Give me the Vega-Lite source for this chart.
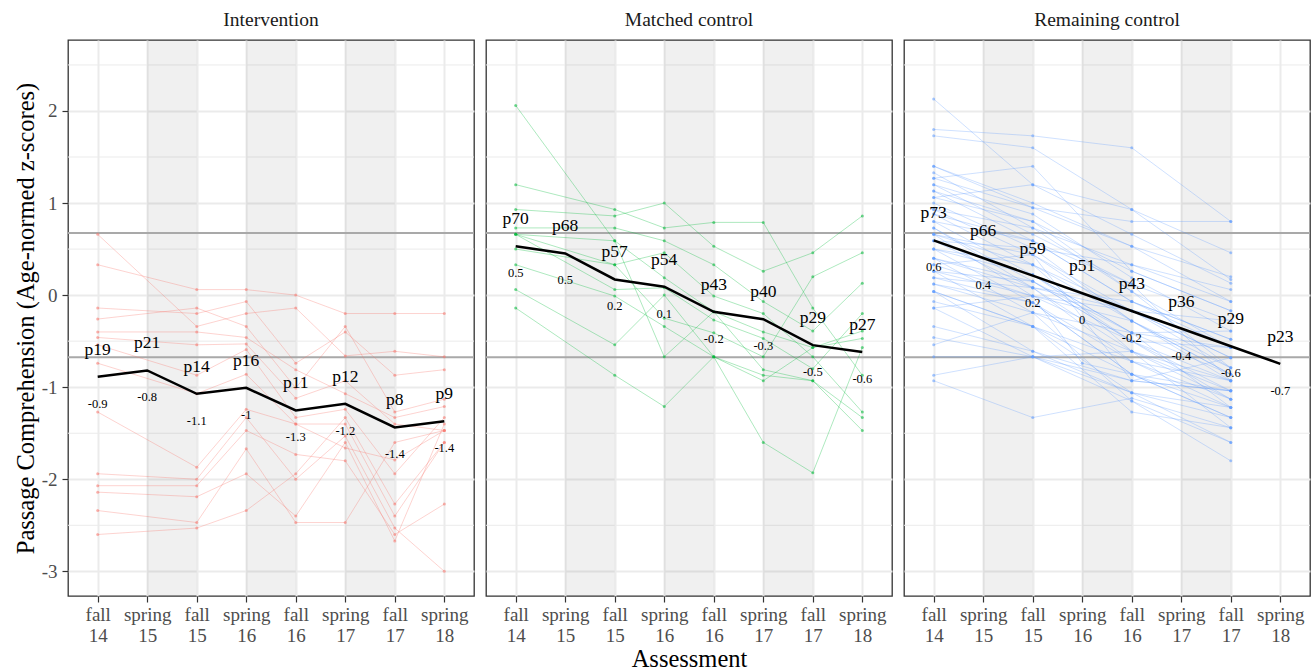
{
"$schema": "https://vega.github.io/schema/vega-lite/v6.json",
"padding": {"left": 12, "top": 8, "right": 0, "bottom": 0},
"background": "white",
"datasets": {
"minor": [{"z":-2.5},{"z":-1.5},{"z":-0.5},{"z":0.5},{"z":1.5},{"z":2.5}],
"refs": [{"z":-0.674},{"z":0.674}],
"bands": [{"t":2,"t2":3},{"t":4,"t2":5},{"t":6,"t2":7}],
"means": [
{"g":"I","t":1,"z":-0.887,"p":"p19","v":"-0.9"},{"g":"I","t":2,"z":-0.818,"p":"p21","v":"-0.8"},{"g":"I","t":3,"z":-1.072,"p":"p14","v":"-1.1"},{"g":"I","t":4,"z":-1.007,"p":"p16","v":"-1"},{"g":"I","t":5,"z":-1.253,"p":"p11","v":"-1.3"},{"g":"I","t":6,"z":-1.18,"p":"p12","v":"-1.2"},{"g":"I","t":7,"z":-1.437,"p":"p8","v":"-1.4"},{"g":"I","t":8,"z":-1.369,"p":"p9","v":"-1.4"},
{"g":"M","t":1,"z":0.532,"p":"p70","v":"0.5"},{"g":"M","t":2,"z":0.453,"p":"p68","v":"0.5"},{"g":"M","t":3,"z":0.17,"p":"p57","v":"0.2"},{"g":"M","t":4,"z":0.091,"p":"p54","v":"0.1"},{"g":"M","t":5,"z":-0.181,"p":"p43","v":"-0.2"},{"g":"M","t":6,"z":-0.261,"p":"p40","v":"-0.3"},{"g":"M","t":7,"z":-0.543,"p":"p29","v":"-0.5"},{"g":"M","t":8,"z":-0.619,"p":"p27","v":"-0.6"},
{"g":"R","t":1,"z":0.594,"p":"p73","v":"0.6"},{"g":"R","t":2,"z":0.403,"p":"p66","v":"0.4"},{"g":"R","t":3,"z":0.211,"p":"p59","v":"0.2"},{"g":"R","t":4,"z":0.02,"p":"p51","v":"0"},{"g":"R","t":5,"z":-0.172,"p":"p43","v":"-0.2"},{"g":"R","t":6,"z":-0.363,"p":"p36","v":"-0.4"},{"g":"R","t":7,"z":-0.555,"p":"p29","v":"-0.6"},{"g":"R","t":8,"z":-0.746,"p":"p23","v":"-0.7"}
],
"students": [
{"g":"I","s":"I1","t":1,"z":0.66},{"g":"I","s":"I1","t":3,"z":-0.34},{"g":"I","s":"I1","t":4,"z":-0.2},{"g":"I","s":"I1","t":5,"z":-0.14},{"g":"I","s":"I1","t":6,"z":-0.66},{"g":"I","s":"I1","t":7,"z":-0.61},{"g":"I","s":"I1","t":8,"z":-0.67},
{"g":"I","s":"I2","t":1,"z":0.33},{"g":"I","s":"I2","t":3,"z":0.06},{"g":"I","s":"I2","t":4,"z":0.06},{"g":"I","s":"I2","t":5,"z":0.0},{"g":"I","s":"I2","t":6,"z":-0.2},{"g":"I","s":"I2","t":7,"z":-0.2},{"g":"I","s":"I2","t":8,"z":-0.2},
{"g":"I","s":"I3","t":1,"z":-0.14},{"g":"I","s":"I3","t":3,"z":-0.2},{"g":"I","s":"I3","t":4,"z":-0.07},{"g":"I","s":"I3","t":5,"z":-0.74},{"g":"I","s":"I3","t":6,"z":-0.4},{"g":"I","s":"I3","t":7,"z":-0.87},{"g":"I","s":"I3","t":8,"z":-0.81},
{"g":"I","s":"I4","t":1,"z":-0.26},{"g":"I","s":"I4","t":3,"z":-0.14},{"g":"I","s":"I4","t":4,"z":-0.34},{"g":"I","s":"I4","t":5,"z":-1.01},{"g":"I","s":"I4","t":6,"z":-0.34},{"g":"I","s":"I4","t":7,"z":-1.27},{"g":"I","s":"I4","t":8,"z":-1.13},
{"g":"I","s":"I5","t":1,"z":-0.4},{"g":"I","s":"I5","t":3,"z":-0.4},{"g":"I","s":"I5","t":4,"z":-0.46},{"g":"I","s":"I5","t":5,"z":-0.81},{"g":"I","s":"I5","t":6,"z":-1.07},{"g":"I","s":"I5","t":7,"z":-1.33},{"g":"I","s":"I5","t":8,"z":-1.21},
{"g":"I","s":"I6","t":1,"z":-0.46},{"g":"I","s":"I6","t":3,"z":-0.54},{"g":"I","s":"I6","t":4,"z":-0.53},{"g":"I","s":"I6","t":5,"z":-1.12},{"g":"I","s":"I6","t":6,"z":-0.93},{"g":"I","s":"I6","t":7,"z":-1.4},{"g":"I","s":"I6","t":8,"z":-1.47},
{"g":"I","s":"I7","t":1,"z":-0.54},{"g":"I","s":"I7","t":3,"z":-0.87},{"g":"I","s":"I7","t":4,"z":-0.59},{"g":"I","s":"I7","t":5,"z":-1.33},{"g":"I","s":"I7","t":6,"z":-1.24},{"g":"I","s":"I7","t":7,"z":-1.94},{"g":"I","s":"I7","t":8,"z":-1.33},
{"g":"I","s":"I8","t":1,"z":-0.74},{"g":"I","s":"I8","t":3,"z":-1.07},{"g":"I","s":"I8","t":4,"z":-0.86},{"g":"I","s":"I8","t":5,"z":-1.4},{"g":"I","s":"I8","t":6,"z":-1.4},{"g":"I","s":"I8","t":7,"z":-2.4},{"g":"I","s":"I8","t":8,"z":-1.6},
{"g":"I","s":"I9","t":1,"z":-1.27},{"g":"I","s":"I9","t":3,"z":-1.87},{"g":"I","s":"I9","t":4,"z":-1.24},{"g":"I","s":"I9","t":5,"z":-1.4},{"g":"I","s":"I9","t":6,"z":-1.66},{"g":"I","s":"I9","t":7,"z":-1.79},{"g":"I","s":"I9","t":8,"z":-1.47},
{"g":"I","s":"I10","t":1,"z":-1.94},{"g":"I","s":"I10","t":3,"z":-2.0},{"g":"I","s":"I10","t":4,"z":-1.33},{"g":"I","s":"I10","t":5,"z":-2.0},{"g":"I","s":"I10","t":6,"z":-1.53},{"g":"I","s":"I10","t":7,"z":-2.53},{"g":"I","s":"I10","t":8,"z":-3.0},
{"g":"I","s":"I11","t":1,"z":-2.07},{"g":"I","s":"I11","t":3,"z":-2.07},{"g":"I","s":"I11","t":4,"z":-1.47},{"g":"I","s":"I11","t":5,"z":-1.73},{"g":"I","s":"I11","t":6,"z":-1.8},{"g":"I","s":"I11","t":7,"z":-2.6},{"g":"I","s":"I11","t":8,"z":-2.27},
{"g":"I","s":"I12","t":1,"z":-2.14},{"g":"I","s":"I12","t":3,"z":-2.19},{"g":"I","s":"I12","t":4,"z":-1.94},{"g":"I","s":"I12","t":5,"z":-2.4},{"g":"I","s":"I12","t":6,"z":-1.6},{"g":"I","s":"I12","t":7,"z":-2.67},{"g":"I","s":"I12","t":8,"z":-1.4},
{"g":"I","s":"I13","t":1,"z":-2.34},{"g":"I","s":"I13","t":3,"z":-2.47},{"g":"I","s":"I13","t":4,"z":-1.67},{"g":"I","s":"I13","t":5,"z":-2.47},{"g":"I","s":"I13","t":6,"z":-2.47},{"g":"I","s":"I13","t":7,"z":-1.6},{"g":"I","s":"I13","t":8,"z":-1.47},
{"g":"I","s":"I14","t":1,"z":-2.6},{"g":"I","s":"I14","t":3,"z":-2.53},{"g":"I","s":"I14","t":4,"z":-2.34},{"g":"I","s":"I14","t":5,"z":-1.94},{"g":"I","s":"I14","t":6,"z":-1.33},{"g":"I","s":"I14","t":7,"z":-2.27},{"g":"I","s":"I14","t":8,"z":-1.6},
{"g":"M","s":"M1","t":1,"z":2.06},{"g":"M","s":"M1","t":3,"z":0.59},{"g":"M","s":"M1","t":4,"z":0.19},{"g":"M","s":"M1","t":5,"z":-0.18},{"g":"M","s":"M1","t":6,"z":-0.4},{"g":"M","s":"M1","t":7,"z":-0.57},{"g":"M","s":"M1","t":8,"z":-0.47},
{"g":"M","s":"M2","t":1,"z":1.2},{"g":"M","s":"M2","t":3,"z":0.93},{"g":"M","s":"M2","t":4,"z":0.73},{"g":"M","s":"M2","t":5,"z":0.79},{"g":"M","s":"M2","t":6,"z":0.79},{"g":"M","s":"M2","t":7,"z":-0.14},{"g":"M","s":"M2","t":8,"z":-0.87},
{"g":"M","s":"M3","t":1,"z":0.93},{"g":"M","s":"M3","t":3,"z":0.86},{"g":"M","s":"M3","t":4,"z":1.0},{"g":"M","s":"M3","t":5,"z":0.53},{"g":"M","s":"M3","t":6,"z":0.26},{"g":"M","s":"M3","t":7,"z":0.46},{"g":"M","s":"M3","t":8,"z":0.86},
{"g":"M","s":"M4","t":1,"z":0.73},{"g":"M","s":"M4","t":3,"z":0.73},{"g":"M","s":"M4","t":4,"z":0.59},{"g":"M","s":"M4","t":5,"z":0.33},{"g":"M","s":"M4","t":6,"z":-0.07},{"g":"M","s":"M4","t":7,"z":-0.39},{"g":"M","s":"M4","t":8,"z":0.13},
{"g":"M","s":"M5","t":1,"z":0.66},{"g":"M","s":"M5","t":3,"z":0.33},{"g":"M","s":"M5","t":4,"z":0.46},{"g":"M","s":"M5","t":5,"z":-0.01},{"g":"M","s":"M5","t":6,"z":-0.2},{"g":"M","s":"M5","t":7,"z":-0.67},{"g":"M","s":"M5","t":8,"z":-1.27},
{"g":"M","s":"M6","t":1,"z":0.66},{"g":"M","s":"M6","t":3,"z":0.06},{"g":"M","s":"M6","t":4,"z":0.08},{"g":"M","s":"M6","t":5,"z":-0.27},{"g":"M","s":"M6","t":6,"z":-0.47},{"g":"M","s":"M6","t":7,"z":-0.8},{"g":"M","s":"M6","t":8,"z":-0.2},
{"g":"M","s":"M7","t":1,"z":0.5},{"g":"M","s":"M7","t":3,"z":0.33},{"g":"M","s":"M7","t":4,"z":-0.25},{"g":"M","s":"M7","t":5,"z":-0.41},{"g":"M","s":"M7","t":6,"z":-0.67},{"g":"M","s":"M7","t":7,"z":0.2},{"g":"M","s":"M7","t":8,"z":0.46},
{"g":"M","s":"M8","t":1,"z":0.33},{"g":"M","s":"M8","t":3,"z":-0.01},{"g":"M","s":"M8","t":4,"z":-0.34},{"g":"M","s":"M8","t":5,"z":-0.67},{"g":"M","s":"M8","t":6,"z":-0.87},{"g":"M","s":"M8","t":7,"z":-0.93},{"g":"M","s":"M8","t":8,"z":-1.33},
{"g":"M","s":"M9","t":1,"z":0.06},{"g":"M","s":"M9","t":3,"z":-0.54},{"g":"M","s":"M9","t":4,"z":0.0},{"g":"M","s":"M9","t":5,"z":-0.67},{"g":"M","s":"M9","t":6,"z":-0.93},{"g":"M","s":"M9","t":7,"z":-0.57},{"g":"M","s":"M9","t":8,"z":-0.39},
{"g":"M","s":"M10","t":1,"z":-0.14},{"g":"M","s":"M10","t":3,"z":-0.87},{"g":"M","s":"M10","t":4,"z":-1.21},{"g":"M","s":"M10","t":5,"z":-0.67},{"g":"M","s":"M10","t":6,"z":-1.6},{"g":"M","s":"M10","t":7,"z":-1.93},{"g":"M","s":"M10","t":8,"z":-0.57},
{"g":"M","s":"M11","t":1,"z":0.66},{"g":"M","s":"M11","t":3,"z":0.59},{"g":"M","s":"M11","t":4,"z":-0.67},{"g":"M","s":"M11","t":5,"z":-0.18},{"g":"M","s":"M11","t":6,"z":-0.81},{"g":"M","s":"M11","t":7,"z":-0.93},{"g":"M","s":"M11","t":8,"z":-1.47},
{"g":"R","s":"R1","t":1,"z":2.13},{"g":"R","s":"R1","t":3,"z":1.2},{"g":"R","s":"R1","t":5,"z":0.66},{"g":"R","s":"R1","t":7,"z":0.13},
{"g":"R","s":"R2","t":1,"z":1.8},{"g":"R","s":"R2","t":3,"z":1.73},{"g":"R","s":"R2","t":5,"z":1.6},{"g":"R","s":"R2","t":7,"z":0.8},
{"g":"R","s":"R3","t":1,"z":1.73},{"g":"R","s":"R3","t":3,"z":1.6},{"g":"R","s":"R3","t":5,"z":0.93},{"g":"R","s":"R3","t":7,"z":0.46},
{"g":"R","s":"R4","t":1,"z":1.4},{"g":"R","s":"R4","t":3,"z":1.0},{"g":"R","s":"R4","t":5,"z":0.53},{"g":"R","s":"R4","t":7,"z":0.2},
{"g":"R","s":"R5","t":1,"z":1.4},{"g":"R","s":"R5","t":3,"z":0.95},{"g":"R","s":"R5","t":5,"z":0.8},{"g":"R","s":"R5","t":7,"z":0.8},
{"g":"R","s":"R6","t":1,"z":1.33},{"g":"R","s":"R6","t":3,"z":0.73},{"g":"R","s":"R6","t":5,"z":0.33},{"g":"R","s":"R6","t":7,"z":-0.07},
{"g":"R","s":"R7","t":1,"z":1.27},{"g":"R","s":"R7","t":3,"z":1.4},{"g":"R","s":"R7","t":5,"z":0.26},{"g":"R","s":"R7","t":7,"z":-0.17},
{"g":"R","s":"R8","t":1,"z":1.2},{"g":"R","s":"R8","t":3,"z":0.88},{"g":"R","s":"R8","t":5,"z":0.19},{"g":"R","s":"R8","t":7,"z":-0.39},
{"g":"R","s":"R9","t":1,"z":1.2},{"g":"R","s":"R9","t":3,"z":0.66},{"g":"R","s":"R9","t":5,"z":0.12},{"g":"R","s":"R9","t":7,"z":-0.28},
{"g":"R","s":"R10","t":1,"z":1.13},{"g":"R","s":"R10","t":3,"z":0.59},{"g":"R","s":"R10","t":5,"z":-0.07},{"g":"R","s":"R10","t":7,"z":-0.48},
{"g":"R","s":"R11","t":1,"z":1.06},{"g":"R","s":"R11","t":3,"z":0.8},{"g":"R","s":"R11","t":5,"z":0.04},{"g":"R","s":"R11","t":7,"z":-0.57},
{"g":"R","s":"R12","t":1,"z":1.0},{"g":"R","s":"R12","t":3,"z":0.51},{"g":"R","s":"R12","t":5,"z":0.33},{"g":"R","s":"R12","t":7,"z":0.06},
{"g":"R","s":"R13","t":1,"z":0.93},{"g":"R","s":"R13","t":3,"z":0.44},{"g":"R","s":"R13","t":5,"z":-0.17},{"g":"R","s":"R13","t":7,"z":-0.68},
{"g":"R","s":"R14","t":1,"z":0.93},{"g":"R","s":"R14","t":3,"z":0.73},{"g":"R","s":"R14","t":5,"z":0.04},{"g":"R","s":"R14","t":7,"z":-0.79},
{"g":"R","s":"R15","t":1,"z":0.88},{"g":"R","s":"R15","t":3,"z":0.33},{"g":"R","s":"R15","t":5,"z":-0.28},{"g":"R","s":"R15","t":7,"z":-0.86},
{"g":"R","s":"R16","t":1,"z":0.8},{"g":"R","s":"R16","t":3,"z":0.22},{"g":"R","s":"R16","t":5,"z":-0.41},{"g":"R","s":"R16","t":7,"z":-0.57},
{"g":"R","s":"R17","t":1,"z":0.8},{"g":"R","s":"R17","t":3,"z":0.59},{"g":"R","s":"R17","t":5,"z":0.12},{"g":"R","s":"R17","t":7,"z":-0.93},
{"g":"R","s":"R18","t":1,"z":0.73},{"g":"R","s":"R18","t":3,"z":0.15},{"g":"R","s":"R18","t":5,"z":-0.5},{"g":"R","s":"R18","t":7,"z":-1.04},
{"g":"R","s":"R19","t":1,"z":0.73},{"g":"R","s":"R19","t":3,"z":0.08},{"g":"R","s":"R19","t":5,"z":-0.07},{"g":"R","s":"R19","t":7,"z":-0.48},
{"g":"R","s":"R20","t":1,"z":0.66},{"g":"R","s":"R20","t":3,"z":0.33},{"g":"R","s":"R20","t":5,"z":-0.61},{"g":"R","s":"R20","t":7,"z":-1.13},
{"g":"R","s":"R21","t":1,"z":0.66},{"g":"R","s":"R21","t":3,"z":-0.01},{"g":"R","s":"R21","t":5,"z":-0.17},{"g":"R","s":"R21","t":7,"z":-0.68},
{"g":"R","s":"R22","t":1,"z":0.59},{"g":"R","s":"R22","t":3,"z":0.51},{"g":"R","s":"R22","t":5,"z":-0.28},{"g":"R","s":"R22","t":7,"z":-0.86},
{"g":"R","s":"R23","t":1,"z":0.59},{"g":"R","s":"R23","t":3,"z":0.08},{"g":"R","s":"R23","t":5,"z":-0.72},{"g":"R","s":"R23","t":7,"z":-1.22},
{"g":"R","s":"R24","t":1,"z":0.5},{"g":"R","s":"R24","t":3,"z":0.22},{"g":"R","s":"R24","t":5,"z":-0.41},{"g":"R","s":"R24","t":7,"z":-0.39},
{"g":"R","s":"R25","t":1,"z":0.5},{"g":"R","s":"R25","t":3,"z":-0.08},{"g":"R","s":"R25","t":5,"z":-0.86},{"g":"R","s":"R25","t":7,"z":-1.33},
{"g":"R","s":"R26","t":1,"z":0.4},{"g":"R","s":"R26","t":3,"z":0.15},{"g":"R","s":"R26","t":5,"z":-0.5},{"g":"R","s":"R26","t":7,"z":-0.93},
{"g":"R","s":"R27","t":1,"z":0.4},{"g":"R","s":"R27","t":3,"z":-0.19},{"g":"R","s":"R27","t":5,"z":-0.61},{"g":"R","s":"R27","t":7,"z":-1.44},
{"g":"R","s":"R28","t":1,"z":0.33},{"g":"R","s":"R28","t":3,"z":0.44},{"g":"R","s":"R28","t":5,"z":-0.93},{"g":"R","s":"R28","t":7,"z":-1.04},
{"g":"R","s":"R29","t":1,"z":0.33},{"g":"R","s":"R29","t":3,"z":-0.01},{"g":"R","s":"R29","t":5,"z":-0.28},{"g":"R","s":"R29","t":7,"z":-0.79},
{"g":"R","s":"R30","t":1,"z":0.26},{"g":"R","s":"R30","t":3,"z":-0.34},{"g":"R","s":"R30","t":5,"z":-1.06},{"g":"R","s":"R30","t":7,"z":-1.6},
{"g":"R","s":"R31","t":1,"z":0.19},{"g":"R","s":"R31","t":3,"z":-0.08},{"g":"R","s":"R31","t":5,"z":-0.72},{"g":"R","s":"R31","t":7,"z":-1.13},
{"g":"R","s":"R32","t":1,"z":0.19},{"g":"R","s":"R32","t":3,"z":0.08},{"g":"R","s":"R32","t":5,"z":-0.17},{"g":"R","s":"R32","t":7,"z":-0.28},
{"g":"R","s":"R33","t":1,"z":0.12},{"g":"R","s":"R33","t":3,"z":-0.19},{"g":"R","s":"R33","t":5,"z":-1.15},{"g":"R","s":"R33","t":7,"z":-1.8},
{"g":"R","s":"R34","t":1,"z":0.04},{"g":"R","s":"R34","t":3,"z":-0.34},{"g":"R","s":"R34","t":5,"z":-0.86},{"g":"R","s":"R34","t":7,"z":-1.22},
{"g":"R","s":"R35","t":1,"z":0.04},{"g":"R","s":"R35","t":3,"z":-0.61},{"g":"R","s":"R35","t":5,"z":-0.93},{"g":"R","s":"R35","t":7,"z":-0.68},
{"g":"R","s":"R36","t":1,"z":-0.07},{"g":"R","s":"R36","t":3,"z":-0.34},{"g":"R","s":"R36","t":5,"z":-1.27},{"g":"R","s":"R36","t":7,"z":-1.44},
{"g":"R","s":"R37","t":1,"z":-0.14},{"g":"R","s":"R37","t":3,"z":-0.67},{"g":"R","s":"R37","t":5,"z":-0.61},{"g":"R","s":"R37","t":7,"z":-0.93},
{"g":"R","s":"R38","t":1,"z":-0.14},{"g":"R","s":"R38","t":3,"z":-0.01},{"g":"R","s":"R38","t":5,"z":-0.5},{"g":"R","s":"R38","t":7,"z":-0.57},
{"g":"R","s":"R39","t":1,"z":-0.34},{"g":"R","s":"R39","t":3,"z":-0.61},{"g":"R","s":"R39","t":5,"z":-1.06},{"g":"R","s":"R39","t":7,"z":-1.33},
{"g":"R","s":"R40","t":1,"z":-0.46},{"g":"R","s":"R40","t":3,"z":-0.67},{"g":"R","s":"R40","t":5,"z":-0.93},{"g":"R","s":"R40","t":7,"z":-1.04},
{"g":"R","s":"R41","t":1,"z":-0.54},{"g":"R","s":"R41","t":3,"z":-0.19},{"g":"R","s":"R41","t":5,"z":-0.41},{"g":"R","s":"R41","t":7,"z":-0.86},
{"g":"R","s":"R42","t":1,"z":-0.67},{"g":"R","s":"R42","t":3,"z":-0.67},{"g":"R","s":"R42","t":5,"z":-1.15},{"g":"R","s":"R42","t":7,"z":-1.6},
{"g":"R","s":"R43","t":1,"z":-0.87},{"g":"R","s":"R43","t":3,"z":-0.67},{"g":"R","s":"R43","t":5,"z":-1.06},{"g":"R","s":"R43","t":7,"z":-1.22},
{"g":"R","s":"R44","t":1,"z":-0.93},{"g":"R","s":"R44","t":3,"z":-1.33},{"g":"R","s":"R44","t":5,"z":-1.12},{"g":"R","s":"R44","t":7,"z":-1.44},
{"g":"R","s":"R45","t":1,"z":1.06},{"g":"R","s":"R45","t":3,"z":1.2},{"g":"R","s":"R45","t":5,"z":0.93},{"g":"R","s":"R45","t":7,"z":0.17},
{"g":"R","s":"R46","t":1,"z":0.26},{"g":"R","s":"R46","t":3,"z":-0.01},{"g":"R","s":"R46","t":4,"z":-0.74},{"g":"R","s":"R46","t":5,"z":-0.86},{"g":"R","s":"R46","t":7,"z":-1.04},
{"g":"R","s":"R47","t":1,"z":1.13},{"g":"R","s":"R47","t":3,"z":0.8},{"g":"R","s":"R47","t":5,"z":0.26},{"g":"R","s":"R47","t":7,"z":-0.17},
{"g":"R","s":"R48","t":1,"z":0.88},{"g":"R","s":"R48","t":3,"z":0.59},{"g":"R","s":"R48","t":5,"z":-0.07},{"g":"R","s":"R48","t":7,"z":-0.57},
{"g":"R","s":"R49","t":1,"z":0.66},{"g":"R","s":"R49","t":3,"z":0.44},{"g":"R","s":"R49","t":5,"z":-0.28},{"g":"R","s":"R49","t":7,"z":-0.93},
{"g":"R","s":"R50","t":1,"z":0.59},{"g":"R","s":"R50","t":3,"z":0.22},{"g":"R","s":"R50","t":5,"z":-0.5},{"g":"R","s":"R50","t":7,"z":-1.13},
{"g":"R","s":"R51","t":1,"z":0.5},{"g":"R","s":"R51","t":3,"z":0.33},{"g":"R","s":"R51","t":5,"z":-0.17},{"g":"R","s":"R51","t":7,"z":-0.79},
{"g":"R","s":"R52","t":1,"z":0.4},{"g":"R","s":"R52","t":3,"z":0.08},{"g":"R","s":"R52","t":5,"z":-0.61},{"g":"R","s":"R52","t":7,"z":-1.04},
{"g":"R","s":"R53","t":1,"z":0.26},{"g":"R","s":"R53","t":3,"z":0.15},{"g":"R","s":"R53","t":5,"z":-0.41},{"g":"R","s":"R53","t":7,"z":-1.22},
{"g":"R","s":"R54","t":1,"z":0.12},{"g":"R","s":"R54","t":3,"z":-0.08},{"g":"R","s":"R54","t":5,"z":-0.86},{"g":"R","s":"R54","t":7,"z":-1.33},
{"g":"R","s":"R55","t":1,"z":1.27},{"g":"R","s":"R55","t":3,"z":0.95},{"g":"R","s":"R55","t":5,"z":0.53},{"g":"R","s":"R55","t":7,"z":-0.07},
{"g":"R","s":"R56","t":1,"z":0.04},{"g":"R","s":"R56","t":3,"z":-0.34},{"g":"R","s":"R56","t":5,"z":-0.72},{"g":"R","s":"R56","t":7,"z":-0.93}
]
},
"spacing": 12,
"bounds": "flush",
"hconcat": [
{
"width": 406, "height": 556,
"title": {"text": "Intervention"},
"layer": [
{"data": {"name": "minor"}, "mark": {"type": "rule", "color": "#ebebeb", "strokeWidth": 1},
 "encoding": {"y": {"field": "z", "type": "quantitative", "scale": {"domain": [-3.268, 2.771], "nice": false, "zero": false},
  "axis": {"title": "Passage Comprehension (Age-normed z-scores)", "values": [-3, -2, -1, 0, 1, 2], "labelExpr": "'' + datum.value", "labelPadding": 5, "titlePadding": 3}}}},
{"data": {"name": "bands"}, "mark": {"type": "rect", "color": "#000000", "opacity": 0.06},
 "encoding": {"x": {"field": "t", "type": "quantitative", "scale": {"domain": [0.4, 8.6], "nice": false, "zero": false},
  "axis": {"title": null, "values": [1, 2, 3, 4, 5, 6, 7, 8], "labelExpr": "split(['fall 14','spring 15','fall 15','spring 16','fall 16','spring 17','fall 17','spring 18'][datum.value - 1], ' ')", "labelBaseline": "top", "labelLineHeight": 21, "labelPadding": 3}},
  "x2": {"field": "t2"}}},
{"data": {"name": "refs"}, "mark": {"type": "rule", "color": "#a9a9a9", "strokeWidth": 2},
 "encoding": {"y": {"field": "z", "type": "quantitative", "scale": {"domain": [-3.268, 2.771], "nice": false, "zero": false}}}},
{"data": {"name": "students"}, "transform": [{"filter": "datum.g == 'I'"}], "mark": {"type": "line", "color": "#F8766D", "strokeWidth": 1, "opacity": 0.32},
 "encoding": {"x": {"field": "t", "type": "quantitative", "scale": {"domain": [0.4, 8.6], "nice": false, "zero": false}}, "y": {"field": "z", "type": "quantitative", "scale": {"domain": [-3.268, 2.771], "nice": false, "zero": false}}, "detail": {"field": "s"}}},
{"data": {"name": "students"}, "transform": [{"filter": "datum.g == 'I'"}], "mark": {"type": "circle", "color": "#F8766D", "size": 9, "opacity": 0.55},
 "encoding": {"x": {"field": "t", "type": "quantitative", "scale": {"domain": [0.4, 8.6], "nice": false, "zero": false}}, "y": {"field": "z", "type": "quantitative", "scale": {"domain": [-3.268, 2.771], "nice": false, "zero": false}}}},
{"data": {"name": "means"}, "transform": [{"filter": "datum.g == 'I'"}], "mark": {"type": "line", "color": "#000000", "strokeWidth": 2.5},
 "encoding": {"x": {"field": "t", "type": "quantitative", "scale": {"domain": [0.4, 8.6], "nice": false, "zero": false}}, "y": {"field": "z", "type": "quantitative", "scale": {"domain": [-3.268, 2.771], "nice": false, "zero": false}}}},
{"data": {"name": "means"}, "transform": [{"filter": "datum.g == 'I'"}], "mark": {"type": "text", "font": "Liberation Serif", "fontSize": 17.5, "color": "#000000", "dy": -27, "baseline": "middle"},
 "encoding": {"x": {"field": "t", "type": "quantitative", "scale": {"domain": [0.4, 8.6], "nice": false, "zero": false}}, "y": {"field": "z", "type": "quantitative", "scale": {"domain": [-3.268, 2.771], "nice": false, "zero": false}}, "text": {"field": "p"}}},
{"data": {"name": "means"}, "transform": [{"filter": "datum.g == 'I'"}], "mark": {"type": "text", "font": "Liberation Serif", "fontSize": 12.5, "color": "#000000", "dy": 27, "baseline": "middle"},
 "encoding": {"x": {"field": "t", "type": "quantitative", "scale": {"domain": [0.4, 8.6], "nice": false, "zero": false}}, "y": {"field": "z", "type": "quantitative", "scale": {"domain": [-3.268, 2.771], "nice": false, "zero": false}}, "text": {"field": "v"}}}
]
},
{
"width": 406, "height": 556,
"title": {"text": "Matched control"},
"layer": [
{"data": {"name": "minor"}, "mark": {"type": "rule", "color": "#ebebeb", "strokeWidth": 1},
 "encoding": {"y": {"field": "z", "type": "quantitative", "scale": {"domain": [-3.268, 2.771], "nice": false, "zero": false},
  "axis": {"title": null, "values": [-3, -2, -1, 0, 1, 2], "labels": false, "ticks": false, "minExtent": 0, "maxExtent": 0}}}},
{"data": {"name": "bands"}, "mark": {"type": "rect", "color": "#000000", "opacity": 0.06},
 "encoding": {"x": {"field": "t", "type": "quantitative", "scale": {"domain": [0.4, 8.6], "nice": false, "zero": false},
  "axis": {"title": "Assessment", "values": [1, 2, 3, 4, 5, 6, 7, 8], "labelExpr": "split(['fall 14','spring 15','fall 15','spring 16','fall 16','spring 17','fall 17','spring 18'][datum.value - 1], ' ')", "labelBaseline": "top", "labelLineHeight": 21, "labelPadding": 3, "titlePadding": 2}},
  "x2": {"field": "t2"}}},
{"data": {"name": "refs"}, "mark": {"type": "rule", "color": "#a9a9a9", "strokeWidth": 2},
 "encoding": {"y": {"field": "z", "type": "quantitative", "scale": {"domain": [-3.268, 2.771], "nice": false, "zero": false}}}},
{"data": {"name": "students"}, "transform": [{"filter": "datum.g == 'M'"}], "mark": {"type": "line", "color": "#00BA38", "strokeWidth": 1, "opacity": 0.32},
 "encoding": {"x": {"field": "t", "type": "quantitative", "scale": {"domain": [0.4, 8.6], "nice": false, "zero": false}}, "y": {"field": "z", "type": "quantitative", "scale": {"domain": [-3.268, 2.771], "nice": false, "zero": false}}, "detail": {"field": "s"}}},
{"data": {"name": "students"}, "transform": [{"filter": "datum.g == 'M'"}], "mark": {"type": "circle", "color": "#00BA38", "size": 9, "opacity": 0.55},
 "encoding": {"x": {"field": "t", "type": "quantitative", "scale": {"domain": [0.4, 8.6], "nice": false, "zero": false}}, "y": {"field": "z", "type": "quantitative", "scale": {"domain": [-3.268, 2.771], "nice": false, "zero": false}}}},
{"data": {"name": "means"}, "transform": [{"filter": "datum.g == 'M'"}], "mark": {"type": "line", "color": "#000000", "strokeWidth": 2.5},
 "encoding": {"x": {"field": "t", "type": "quantitative", "scale": {"domain": [0.4, 8.6], "nice": false, "zero": false}}, "y": {"field": "z", "type": "quantitative", "scale": {"domain": [-3.268, 2.771], "nice": false, "zero": false}}}},
{"data": {"name": "means"}, "transform": [{"filter": "datum.g == 'M'"}], "mark": {"type": "text", "font": "Liberation Serif", "fontSize": 17.5, "color": "#000000", "dy": -27, "baseline": "middle"},
 "encoding": {"x": {"field": "t", "type": "quantitative", "scale": {"domain": [0.4, 8.6], "nice": false, "zero": false}}, "y": {"field": "z", "type": "quantitative", "scale": {"domain": [-3.268, 2.771], "nice": false, "zero": false}}, "text": {"field": "p"}}},
{"data": {"name": "means"}, "transform": [{"filter": "datum.g == 'M'"}], "mark": {"type": "text", "font": "Liberation Serif", "fontSize": 12.5, "color": "#000000", "dy": 27, "baseline": "middle"},
 "encoding": {"x": {"field": "t", "type": "quantitative", "scale": {"domain": [0.4, 8.6], "nice": false, "zero": false}}, "y": {"field": "z", "type": "quantitative", "scale": {"domain": [-3.268, 2.771], "nice": false, "zero": false}}, "text": {"field": "v"}}}
]
},
{
"width": 406, "height": 556,
"title": {"text": "Remaining control"},
"layer": [
{"data": {"name": "minor"}, "mark": {"type": "rule", "color": "#ebebeb", "strokeWidth": 1},
 "encoding": {"y": {"field": "z", "type": "quantitative", "scale": {"domain": [-3.268, 2.771], "nice": false, "zero": false},
  "axis": {"title": null, "values": [-3, -2, -1, 0, 1, 2], "labels": false, "ticks": false, "minExtent": 0, "maxExtent": 0}}}},
{"data": {"name": "bands"}, "mark": {"type": "rect", "color": "#000000", "opacity": 0.06},
 "encoding": {"x": {"field": "t", "type": "quantitative", "scale": {"domain": [0.4, 8.6], "nice": false, "zero": false},
  "axis": {"title": null, "values": [1, 2, 3, 4, 5, 6, 7, 8], "labelExpr": "split(['fall 14','spring 15','fall 15','spring 16','fall 16','spring 17','fall 17','spring 18'][datum.value - 1], ' ')", "labelBaseline": "top", "labelLineHeight": 21, "labelPadding": 3}},
  "x2": {"field": "t2"}}},
{"data": {"name": "refs"}, "mark": {"type": "rule", "color": "#a9a9a9", "strokeWidth": 2},
 "encoding": {"y": {"field": "z", "type": "quantitative", "scale": {"domain": [-3.268, 2.771], "nice": false, "zero": false}}}},
{"data": {"name": "students"}, "transform": [{"filter": "datum.g == 'R'"}], "mark": {"type": "line", "color": "#619CFF", "strokeWidth": 1, "opacity": 0.3},
 "encoding": {"x": {"field": "t", "type": "quantitative", "scale": {"domain": [0.4, 8.6], "nice": false, "zero": false}}, "y": {"field": "z", "type": "quantitative", "scale": {"domain": [-3.268, 2.771], "nice": false, "zero": false}}, "detail": {"field": "s"}}},
{"data": {"name": "students"}, "transform": [{"filter": "datum.g == 'R'"}], "mark": {"type": "circle", "color": "#619CFF", "size": 9, "opacity": 0.55},
 "encoding": {"x": {"field": "t", "type": "quantitative", "scale": {"domain": [0.4, 8.6], "nice": false, "zero": false}}, "y": {"field": "z", "type": "quantitative", "scale": {"domain": [-3.268, 2.771], "nice": false, "zero": false}}}},
{"data": {"name": "means"}, "transform": [{"filter": "datum.g == 'R'"}], "mark": {"type": "line", "color": "#000000", "strokeWidth": 2.5},
 "encoding": {"x": {"field": "t", "type": "quantitative", "scale": {"domain": [0.4, 8.6], "nice": false, "zero": false}}, "y": {"field": "z", "type": "quantitative", "scale": {"domain": [-3.268, 2.771], "nice": false, "zero": false}}}},
{"data": {"name": "means"}, "transform": [{"filter": "datum.g == 'R'"}], "mark": {"type": "text", "font": "Liberation Serif", "fontSize": 17.5, "color": "#000000", "dy": -27, "baseline": "middle"},
 "encoding": {"x": {"field": "t", "type": "quantitative", "scale": {"domain": [0.4, 8.6], "nice": false, "zero": false}}, "y": {"field": "z", "type": "quantitative", "scale": {"domain": [-3.268, 2.771], "nice": false, "zero": false}}, "text": {"field": "p"}}},
{"data": {"name": "means"}, "transform": [{"filter": "datum.g == 'R'"}], "mark": {"type": "text", "font": "Liberation Serif", "fontSize": 12.5, "color": "#000000", "dy": 27, "baseline": "middle"},
 "encoding": {"x": {"field": "t", "type": "quantitative", "scale": {"domain": [0.4, 8.6], "nice": false, "zero": false}}, "y": {"field": "z", "type": "quantitative", "scale": {"domain": [-3.268, 2.771], "nice": false, "zero": false}}, "text": {"field": "v"}}}
]
}
],
"config": {
"font": "Liberation Serif",
"text": {"font": "Liberation Serif"},
"view": {"stroke": "#333333", "strokeWidth": 1.3},
"title": {"font": "Liberation Serif", "fontSize": 19.5, "fontWeight": "normal", "color": "#1a1a1a", "offset": 10, "anchor": "middle"},
"axis": {"labelFont": "Liberation Serif", "labelFontSize": 19, "labelColor": "#4d4d4d", "tickColor": "#333333", "tickSize": 6, "tickWidth": 1.2, "domain": false, "grid": true, "gridColor": "#ebebeb", "gridWidth": 2, "titleFont": "Liberation Serif", "titleFontSize": 24.5, "titleFontWeight": "normal", "titleColor": "#000000"}
}
}
